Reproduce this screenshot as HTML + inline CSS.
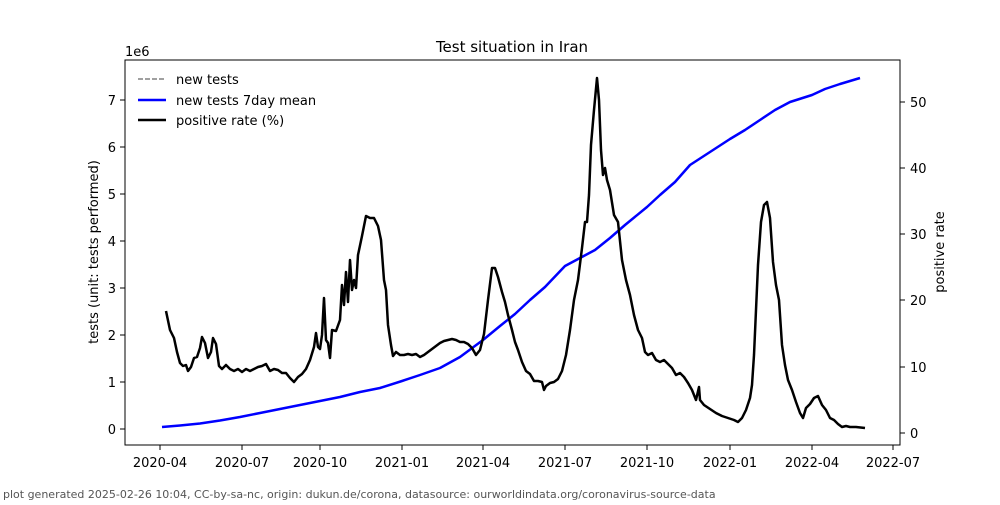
<!DOCTYPE html>
<html><head><meta charset="utf-8"><style>
body{margin:0;background:#fff}
svg text{font-family:"DejaVu Sans","Liberation Sans",sans-serif}
</style></head><body>
<svg width="1000" height="500" xmlns="http://www.w3.org/2000/svg">
<rect width="1000" height="500" fill="#fff"/>
<text x="512" y="52" font-size="15" text-anchor="middle">Test situation in Iran</text>
<g font-size="13" fill="#000">
<text x="125" y="56">1e6</text>
</g>
<g stroke="#000" stroke-width="1">
<line x1="120" y1="429" x2="125" y2="429"/><line x1="120" y1="382" x2="125" y2="382"/>
<line x1="120" y1="335" x2="125" y2="335"/><line x1="120" y1="288" x2="125" y2="288"/>
<line x1="120" y1="241" x2="125" y2="241"/><line x1="120" y1="194" x2="125" y2="194"/>
<line x1="120" y1="147" x2="125" y2="147"/><line x1="120" y1="100" x2="125" y2="100"/>
<line x1="900" y1="433" x2="905" y2="433"/><line x1="900" y1="367" x2="905" y2="367"/>
<line x1="900" y1="300" x2="905" y2="300"/><line x1="900" y1="234" x2="905" y2="234"/>
<line x1="900" y1="168" x2="905" y2="168"/><line x1="900" y1="102" x2="905" y2="102"/>
<line x1="160" y1="445" x2="160" y2="450"/><line x1="242" y1="445" x2="242" y2="450"/>
<line x1="320" y1="445" x2="320" y2="450"/><line x1="402" y1="445" x2="402" y2="450"/>
<line x1="483" y1="445" x2="483" y2="450"/><line x1="565" y1="445" x2="565" y2="450"/>
<line x1="647" y1="445" x2="647" y2="450"/><line x1="730" y1="445" x2="730" y2="450"/>
<line x1="812" y1="445" x2="812" y2="450"/><line x1="893" y1="445" x2="893" y2="450"/>
</g>
<g font-size="13" text-anchor="end">
<text x="116" y="434">0</text><text x="116" y="387">1</text><text x="116" y="340">2</text>
<text x="116" y="293">3</text><text x="116" y="246">4</text><text x="116" y="199">5</text>
<text x="116" y="152">6</text><text x="116" y="105">7</text>
</g>
<g font-size="13">
<text x="910" y="438">0</text><text x="910" y="372">10</text><text x="910" y="305">20</text>
<text x="910" y="239">30</text><text x="910" y="173">40</text><text x="910" y="107">50</text>
</g>
<g font-size="13" text-anchor="middle">
<text x="160" y="467">2020-04</text><text x="242" y="467">2020-07</text><text x="320" y="467">2020-10</text>
<text x="402" y="467">2021-01</text><text x="483" y="467">2021-04</text><text x="565" y="467">2021-07</text>
<text x="647" y="467">2021-10</text><text x="730" y="467">2022-01</text><text x="812" y="467">2022-04</text>
<text x="893" y="467">2022-07</text>
</g>
<text transform="translate(98,252) rotate(-90)" font-size="13" text-anchor="middle">tests (unit: tests performed)</text>
<text transform="translate(944,252) rotate(-90)" font-size="13" text-anchor="middle">positive rate</text>
<polyline fill="none" stroke="#0000ff" stroke-width="2.5" stroke-linejoin="round" points="162,427 180,425.5 200,423.5 220,420.5 240,417 260,413 280,409 300,405 320,401 340,397 360,392 380,388 402,381 420,375 440,368 460,357 483,340 500,326 515,314 530,300 545,287 565,266 580,258 595,250 610,238 625,225 647,207 660,195 675,182 690,165 710,152 730,139 745,130 760,120 775,110 790,102 812,95 825,89 840,84 860,78"/>
<polyline fill="none" stroke="#000" stroke-width="2.5" stroke-linejoin="round" points="166,311 170,330 174,338 177,352 180,363 183,366 186,365 188,371 191,367 194,358 197,357 200,348 202,337 205,343 208,358 211,352 213,338 216,344 219,366 222,369 226,365 230,369 234,371 238,369 242,372 246,369 250,371 254,369 258,367 262,366 266,364 270,371 274,369 278,370 282,373 286,373 290,378 294,382 298,377 302,374 306,369 310,360 314,347 316,333 318,347 320,349 322,335 324,298 326,340 328,343 330,358 332,330 336,331 340,320 342,285 344,305 346,272 348,302 350,260 352,290 354,280 356,288 358,255 362,236 366,216 370,218 374,218 378,226 381,240 384,280 386,290 388,325 391,345 393,356 396,352 400,355 404,355 408,354 412,355 416,354 420,357 424,355 428,352 432,349 436,346 440,343 444,341 448,340 452,339 456,340 460,342 464,342 468,344 472,348 476,355 480,350 484,334 488,300 492,268 495,268 498,277 502,292 505,302 508,315 512,330 515,342 518,350 522,362 526,371 530,374 534,381 538,381 542,382 544,390 546,386 550,383 554,382 558,379 562,371 566,355 570,330 574,300 578,280 582,248 585,222 587,222 589,195 591,145 594,110 597,78 599,100 601,150 603,175 605,168 607,180 610,190 614,215 618,222 622,260 626,280 630,295 634,315 638,330 642,338 645,352 648,355 652,353 656,360 660,362 664,360 668,364 672,368 676,375 680,373 684,377 688,383 692,390 696,400 699,387 700,400 704,405 710,409 716,413 722,416 728,418 734,420 738,422 742,418 746,410 750,398 752,385 754,355 756,310 758,265 761,222 764,205 767,202 770,218 773,262 776,285 779,300 782,345 785,365 788,380 792,390 796,402 800,413 803,418 806,408 810,404 814,398 818,396 822,405 826,410 830,418 834,420 838,424 842,427 846,426 850,427 856,427 865,428"/>
<rect x="125" y="60" width="775" height="385" fill="none" stroke="#000" stroke-width="1"/>
<line x1="138" y1="79" x2="166" y2="79" stroke="#808080" stroke-width="1.5" stroke-dasharray="5,2"/>
<line x1="138" y1="100" x2="166" y2="100" stroke="#0000ff" stroke-width="2.5"/>
<line x1="138" y1="120" x2="166" y2="120" stroke="#000" stroke-width="2.5"/>
<g font-size="13"><text x="176" y="84">new tests</text><text x="176" y="105">new tests 7day mean</text><text x="176" y="125">positive rate (%)</text></g>
<text x="3" y="498" font-size="11" fill="#555">plot generated 2025-02-26 10:04, CC-by-sa-nc, origin: dukun.de/corona, datasource: ourworldindata.org/coronavirus-source-data</text>
</svg>
</body></html>
